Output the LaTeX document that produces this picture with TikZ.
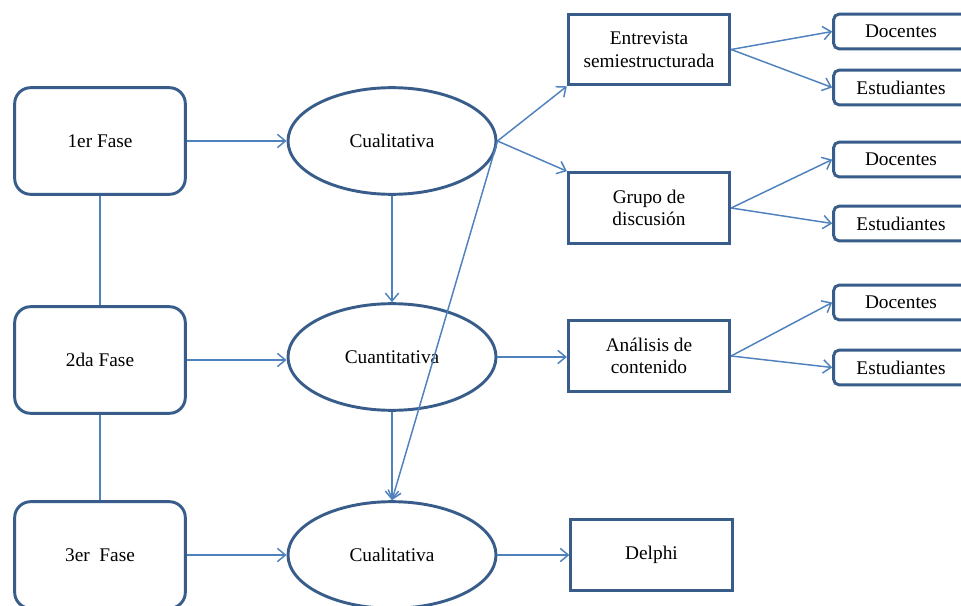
\documentclass[tikz,border=0pt]{standalone}
\usepackage{fontspec}
\setmainfont{Liberation Serif}
\usetikzlibrary{positioning, arrows.meta, shapes.geometric}
\definecolor{BoxBlue}{RGB}{56,93,138}
\definecolor{LineBlue}{RGB}{79,129,189}
\tikzset{
    fasenode/.style={
        draw=BoxBlue, line width=2.2pt, rounded corners=12pt, fill=white,
        minimum width=128pt, minimum height=80pt, align=center
    },
    metodo/.style={
        ellipse, draw=BoxBlue, line width=2.2pt, fill=white,
        minimum width=156pt, minimum height=80pt, inner sep=0pt
    },
    tecnica/.style={
        draw=BoxBlue, line width=2.2pt, fill=white,
        minimum width=121pt, minimum height=53pt, align=center
    },
    actor/.style={
        draw=BoxBlue, line width=2.2pt, rounded corners=4pt, fill=white,
        minimum width=101pt, minimum height=26pt
    },
    flecha/.style={
        -{Straight Barb[length=6pt, width=10pt]}, line width=1.1pt, LineBlue
    },
    enlace/.style={
        line width=1.1pt, LineBlue
    }
}

\begin{document}
\begin{tikzpicture}[x=0.75pt, y=-0.75pt, font=\fontsize{14.5}{17}\selectfont]
    \useasboundingbox (0,0) rectangle (961,606);
    \clip (0,0) rectangle (961,606);
    % fases
    \node[fasenode] (f1) at (100,141) {1er Fase};
    \node[fasenode] (f2) at (100,360) {2da Fase};
    \node[fasenode] (f3) at (100,555) {3er\ \ Fase};
    \draw[enlace] (f1) -- (f2);
    \draw[enlace] (f2) -- (f3);
    % enfoques
    \node[metodo] (m1) at (392,141) {Cualitativa};
    \node[metodo] (m2) at (392,357) {Cuantitativa};
    \node[metodo] (m3) at (392,555) {Cualitativa};
    \draw[flecha] (f1) -- (m1);
    \draw[flecha] (f2.east) -- (f2.east -| m2.west);
    \draw[flecha] (f3) -- (m3);
    \draw[flecha] (m1) -- (m2);
    \draw[flecha] (m2) -- (m3);
    \draw[flecha] (m1.east) -- (m3.north);
    % tecnicas
    \node[tecnica] (ent) at (649,49.5) {Entrevista\\semiestructurada};
    \node[tecnica] (gru) at (649,208) {Grupo de\\discusión};
    \node[tecnica] (ana) at (649,356) {Análisis de\\contenido};
    \node[tecnica] (del) at (651.5,555) {Delphi};
    \draw[flecha] (m1.east) -- (ent.south west);
    \draw[flecha] (m1.east) -- (gru.north west);
    \draw[flecha] (m2.east -| m2.east) -- (m2.east -| ana.west);
    \draw[flecha] (m3) -- (del);
    % participantes
    \node[actor] (doc1) at (901,31.5) {Docentes};
    \node[actor] (est1) at (901,87.5) {Estudiantes};
    \node[actor] (doc2) at (901,159.5) {Docentes};
    \node[actor] (est2) at (901,223.5) {Estudiantes};
    \node[actor] (doc3) at (901,302.5) {Docentes};
    \node[actor] (est3) at (901,367.5) {Estudiantes};
    \foreach \t/\a/\b in {ent/doc1/est1, gru/doc2/est2, ana/doc3/est3} {
        \draw[flecha] (\t.east) -- (\a.west);
        \draw[flecha] (\t.east) -- (\b.west);
    }
\end{tikzpicture}
\end{document}
